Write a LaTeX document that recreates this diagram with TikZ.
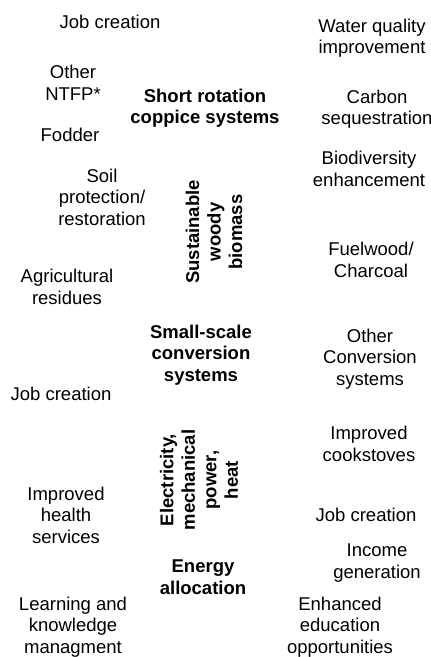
\documentclass[tikz,border=0pt]{standalone}
\usepackage{fontspec}
\setmainfont{Liberation Sans}
\usepackage{tikz}
\usetikzlibrary{positioning}
\tikzset{benefit/.style={align=center, inner sep=0pt, font=\fontsize{18.5}{21.5}\selectfont},
	stage/.style={benefit, font=\fontsize{18.5}{21.5}\selectfont\bfseries},
	flowlabel/.style={stage, rotate=90}}

\begin{document}
\begin{tikzpicture}[x=1pt,y=-1pt]
			\useasboundingbox [fill=white] (0,0) rectangle (431,657);
			% left column
			\node[benefit] (jobtop) at (110,22) {Job creation};
			\node[benefit] (ntfp) at (73,83) {Other\\NTFP*};
			\node[benefit] (fodder) at (70,135) {Fodder};
			\node[benefit] (soil) at (102,197) {Soil\\protection/\\restoration};
			\node[benefit] (agri) at (67,287) {Agricultural\\residues};
			\node[benefit] (jobmid) at (61,394) {Job creation};
			\node[benefit] (health) at (66,515) {Improved\\health\\services};
			\node[benefit] (learn) at (73,627) {Learning and\\knowledge\\managment};
			% middle column
			\node[stage] (coppice) at (205,108) {Short rotation\\coppice systems};
			\node[flowlabel] (biomass) at (214,232) {Sustainable\\woody\\biomass};
			\node[stage] (smallscale) at (201,355) {Small-scale\\conversion\\systems};
			\node[flowlabel] (power) at (199,480) {Electricity,\\mechanical\\power,\\heat};
			\node[stage] (alloc) at (203,577) {Energy\\allocation};
			% right column
			\node[benefit] (water) at (372,38) {Water quality\\improvement};
			\node[benefit] (carbon) at (377,109) {Carbon\\sequestration};
			\node[benefit] (biodiv) at (369,169) {Biodiversity\\enhancement};
			\node[benefit] (fuel) at (371,260) {Fuelwood/\\Charcoal};
			\node[benefit] (otherconv) at (370,359) {Other\\Conversion\\systems};
			\node[benefit] (stoves) at (369,444) {Improved\\cookstoves};
			\node[benefit] (jobright) at (366,515) {Job creation};
			\node[benefit] (income) at (377,563) {Income\\generation};
			\node[benefit] (edu) at (340,627) {Enhanced\\education\\opportunities};
		\end{tikzpicture}
\end{document}
